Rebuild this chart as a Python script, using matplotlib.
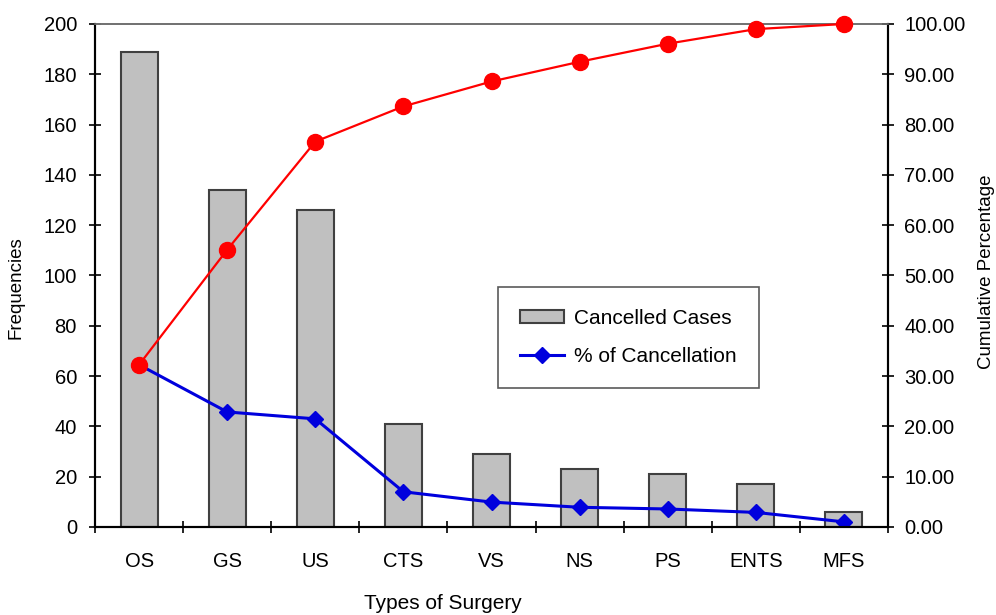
import matplotlib
matplotlib.use("Agg")
import matplotlib.pyplot as plt
from matplotlib.ticker import FormatStrFormatter, FixedLocator

plt.rcParams['font.family'] = ['Liberation Sans', 'DejaVu Sans']

# Data
surgery_types = ["OS", "GS", "US", "CTS", "VS", "NS", "PS", "ENTS", "MFS"]
cancelled_cases = [189, 134, 126, 41, 29, 23, 21, 17, 6]
pct_cancellation = [32.25, 22.87, 21.50, 7.00, 4.95, 3.92, 3.58, 2.90, 1.02]
cumulative_pct = [32.25, 55.12, 76.62, 83.62, 88.57, 92.49, 96.08, 98.98, 100.0]

fig = plt.figure(figsize=(9.96, 6.15), dpi=100)
ax = fig.add_axes([0.0954, 0.1431, 0.7962, 0.8179])
ax2 = ax.twinx()

x = list(range(len(surgery_types)))

# Bars for cancelled cases
bars = ax.bar(x, cancelled_cases, width=0.42, color="#c0c0c0",
              edgecolor="#404040", linewidth=1.5, label="Cancelled Cases")

# Lines on the percentage axis
line_cum, = ax2.plot(x, cumulative_pct, color="#ff0000", linewidth=1.6,
                     marker="o", markersize=11.5, zorder=3, clip_on=False)
line_pct, = ax2.plot(x, pct_cancellation, color="#0000dd", linewidth=2.2,
                     marker="D", markersize=8.5, label="% of Cancellation", zorder=2)

# Axis limits
ax.set_xlim(-0.5, len(surgery_types) - 0.5)
ax.set_ylim(0, 200)
ax2.set_ylim(0, 100)

# Ticks
ax.set_yticks(range(0, 201, 20))
ax2.set_yticks(range(0, 101, 10))
ax2.yaxis.set_major_formatter(FormatStrFormatter("%.2f"))
ax.set_xticks(x)
ax.set_xticklabels(surgery_types)
ax.xaxis.set_minor_locator(FixedLocator([i - 0.5 for i in range(len(surgery_types) + 1)]))
ax.tick_params(axis="x", which="major", length=0, pad=18, labelsize=14.5)
ax.tick_params(axis="x", which="minor", direction="inout", length=8, width=1.2)
ax.tick_params(axis="y", direction="inout", length=8, width=1.2, labelsize=14.5, pad=9)
ax2.tick_params(axis="y", direction="inout", length=8, width=1.2, labelsize=14.5, pad=7.5)

# Spines
for a in (ax, ax2):
    a.spines["top"].set_color("#707070")
    a.spines["top"].set_linewidth(1.2)
    a.spines["left"].set_linewidth(1.5)
    a.spines["right"].set_linewidth(1.5)
    a.spines["bottom"].set_linewidth(1.5)

# Labels
ax.set_ylabel("Frequencies", fontsize=13.5)
ax.yaxis.set_label_coords(-0.0883, 0.475)
ax2.set_ylabel("Cumulative Percentage", fontsize=13.5)
ax2.yaxis.set_label_coords(1.1135, 0.507)
fig.text(443 / 996, 1 - 594 / 615, "Types of Surgery", fontsize=15,
         ha="center", va="top")

# Legend
leg = ax2.legend([bars, line_pct], ["Cancelled Cases", "% of Cancellation"],
                 loc="upper left", bbox_to_anchor=(498 / 996, 1 - 287 / 615),
                 bbox_transform=fig.transFigure, borderaxespad=0,
                 fontsize=15, frameon=True, fancybox=False, edgecolor="#303030",
                 handlelength=2.1, handleheight=0.6, handletextpad=0.5,
                 labelspacing=0.9, borderpad=1.05)
leg.get_frame().set_linewidth(1.2)

fig.savefig("out.png", dpi=100)
